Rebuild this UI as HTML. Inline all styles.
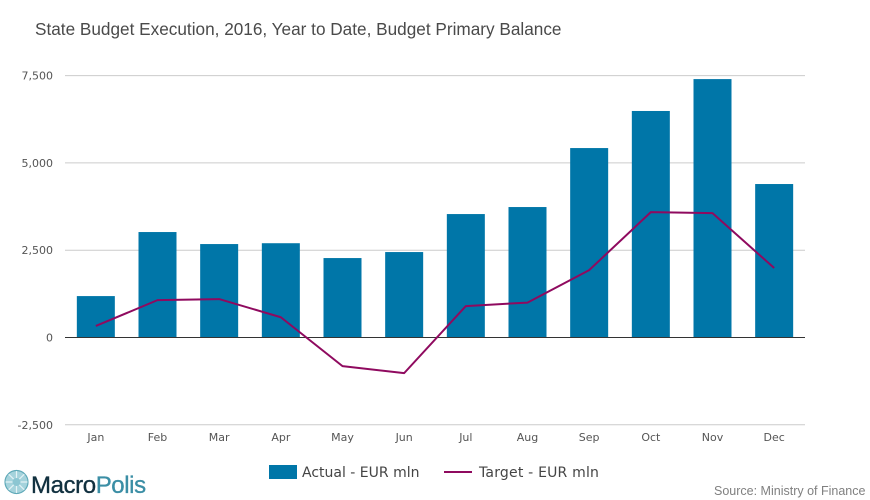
<!DOCTYPE html>
<html>
<head>
<meta charset="utf-8">
<style>
html,body{margin:0;padding:0;background:#fff;width:870px;height:500px;overflow:hidden}
svg{display:block}
text{font-family:"DejaVu Sans","Liberation Sans",sans-serif}
</style>
</head>
<body>
<svg id="chart" width="870" height="500" viewBox="0 0 870 500" xmlns="http://www.w3.org/2000/svg">
  <text x="35" y="35" style="font-family:'Liberation Sans',sans-serif;font-size:17.2px" fill="#4a4a4a">State Budget Execution, 2016, Year to Date, Budget Primary Balance</text>
  <g id="grid"></g>
  <g id="bars"></g>
  <g id="zero"></g>
  <g id="line"></g>
  <g id="yticks"></g>
  <g id="xticks"></g>

  <g>
    <g>
      <rect x="269" y="465" width="28" height="14" fill="#0076a8"></rect>
      <text x="302" y="477" font-size="14" fill="#444">Actual - EUR mln</text>
    </g>
    <g>
      <line x1="444" x2="472" y1="472" y2="472" stroke="#8f0a5f" stroke-width="2"></line>
      <text x="479" y="477" font-size="14" letter-spacing=".2" fill="#444">Target - EUR mln</text>
    </g>
  </g>

  <g>
    <circle cx="16.5" cy="482" r="11.5" fill="#a5d3dc" stroke="#5fa9b8" stroke-width="1.2"></circle>
    <path d="M16.5 471V493M5.5 482H27.5M8.7 474.2L24.3 489.8M24.3 474.2L8.7 489.8" stroke="#e4f3f6" stroke-width="1.2" fill="none"></path>
    <circle cx="16.5" cy="482" r="4" fill="#8cc6d2"></circle>
    <text x="31" y="493" style="font-family:'Liberation Sans',sans-serif;font-size:24px;letter-spacing:-.4px" fill="#11303f" stroke="#11303f" stroke-width=".35">Macro<tspan fill="#3b8ea5" stroke="#3b8ea5">Polis</tspan></text>
  </g>

  <text x="714" y="495" style="font-family:'Liberation Sans',sans-serif;font-size:12.5px" fill="#808080">Source: Ministry of Finance</text>
</svg>
<script>
const categories = ['Jan','Feb','Mar','Apr','May','Jun','Jul','Aug','Sep','Oct','Nov','Dec'];
const actualValues = [1186,3020,2676,2700,2275,2447,3535,3736,5425,6487,7400,4395];
const targetValues = [330,1070,1100,580,-820,-1020,900,1000,1930,3590,3560,1990];
const yTickValues = [7500,5000,2500,0,-2500];

const NS = 'http://www.w3.org/2000/svg';
const plotLeft = 65, plotRight = 805, barWidth = 38;
function yScale(v){ return 337.5 - v * (87.3 / 2500); }
function xScale(i){ return plotLeft + (plotRight - plotLeft) / categories.length * (i + 0.5); }
function make(tag, attrs, parent){
  const el = document.createElementNS(NS, tag);
  for (const k in attrs) el.setAttribute(k, attrs[k]);
  parent.appendChild(el);
  return el;
}
const grid = document.getElementById('grid');
const yt = document.getElementById('yticks');
const xt = document.getElementById('xticks');
const bars = document.getElementById('bars');
const zero = document.getElementById('zero');
const lineG = document.getElementById('line');

yTickValues.forEach(function(v){
  if (v !== 0) {
    const g = make('line', {x1:plotLeft, x2:plotRight, y1:yScale(v), y2:yScale(v), stroke:'#cccccc', 'stroke-width':1}, grid);
    
    
  }
  const t = make('text', {x:53, y:yScale(v)+4, 'text-anchor':'end', 'font-size':11, fill:'#555'}, yt);
  
  
  t.textContent = v.toLocaleString('en-US');
});

categories.forEach(function(c, i){
  const t = make('text', {x:xScale(i), y:441, 'text-anchor':'middle', 'font-size':11, fill:'#555'}, xt);
  
  
  t.textContent = c;
});

actualValues.forEach(function(v, i){
  const top = Math.min(yScale(v), yScale(0));
  const h = Math.abs(yScale(v) - yScale(0));
  const r = make('rect', {x:xScale(i) - barWidth / 2, y:top, width:barWidth, height:h, fill:'#0076a8'}, bars);
  
  
});

const zl = make('line', {x1:plotLeft, x2:plotRight, y1:yScale(0), y2:yScale(0), stroke:'#333333', 'stroke-width':1}, zero);



const pts = targetValues.map(function(v, i){ return xScale(i) + ',' + yScale(v); }).join(' ');
const pl = make('polyline', {points:pts, fill:'none', stroke:'#8f0a5f', 'stroke-width':2, 'stroke-linejoin':'round'}, lineG);


</script>
</body>
</html>
